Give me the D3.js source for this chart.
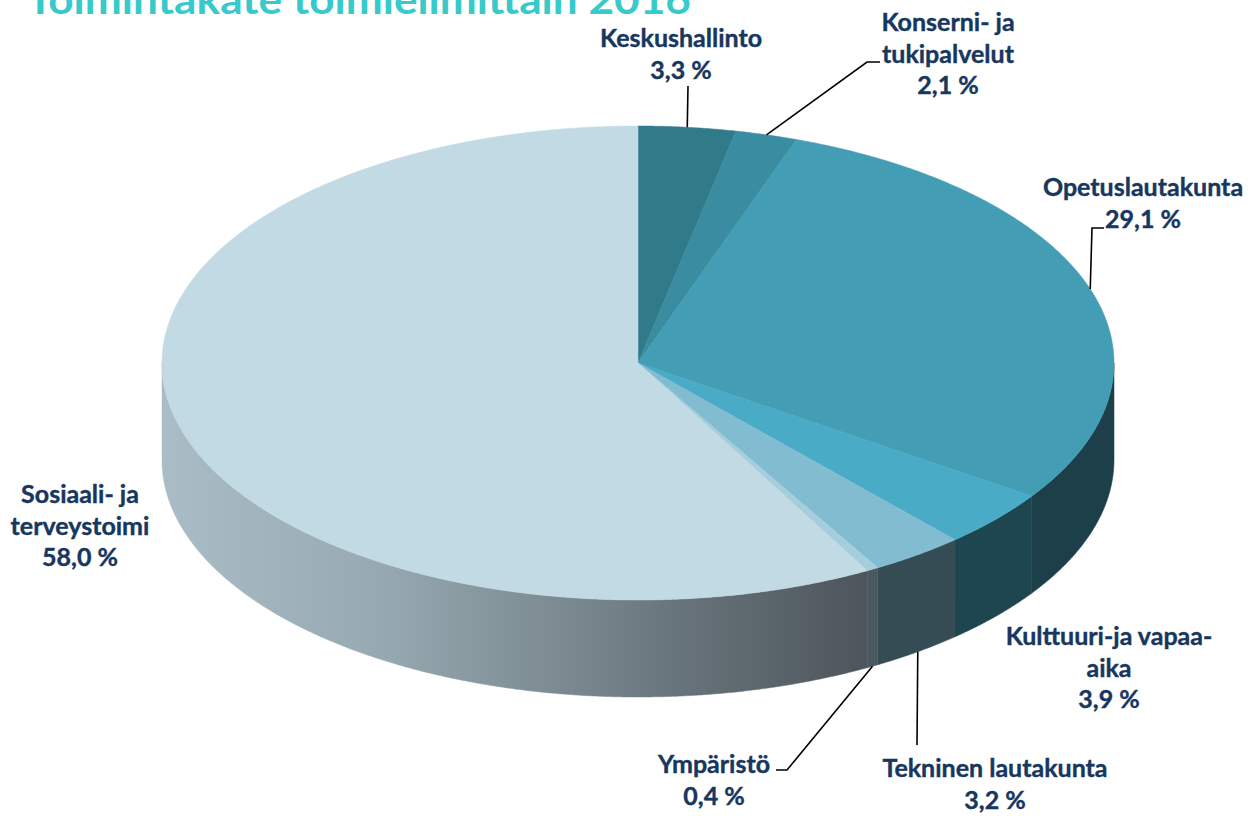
<!DOCTYPE html>
<html>
<head>
<meta charset="utf-8">
<script src="https://cdn.jsdelivr.net/npm/d3@7"></script>
<style>
  body { margin: 0; background: #fff; }
  text { font-family: Lato, "Open Sans", sans-serif; font-weight: bold; }
</style>
</head>
<body>
<div id="main"></div>
<script>
// data
var names = ['Keskushallinto', 'Konserni- ja tukipalvelut', 'Opetuslautakunta',
  'Kulttuuri-ja vapaa-aika', 'Tekninen lautakunta', 'Ympäristö', 'Sosiaali- ja terveystoimi'];
var values = [3.3, 2.1, 29.1, 3.9, 3.2, 0.4, 58.0];
var labelLines = [
  ['Keskushallinto'],
  ['Konserni- ja', 'tukipalvelut'],
  ['Opetuslautakunta'],
  ['Kulttuuri-ja vapaa-', 'aika'],
  ['Tekninen lautakunta'],
  ['Ympäristö'],
  ['Sosiaali- ja', 'terveystoimi']
];
var title = 'Toimintakate toimielimittäin 2016';

// colours
var topColors = ['#317a8a', '#3a8ca1', '#439db5', '#49abc6', '#82bcd0', '#a5cddb', '#c2dae3'];
var sideColors = ['#1e4a55', '#22505c', '#1c3f4a', '#1e4651', '#364c55', '#4a5860', 'url(#sideGrad)'];

// label placement: text centre, first baseline, leader elbow points
var labelLayout = [
  { x: 681, y: 47, leader: [[688, 86]] },
  { x: 948, y: 31, leader: [[867, 62], [880, 62]] },
  { x: 1143, y: 196, leader: [[1092, 228], [1104, 228]] },
  { x: 1109, y: 645, leader: null },
  { x: 995, y: 777, leader: [[917, 745]] },
  { x: 714, y: 773, leader: [[787, 770], [776, 770]] },
  { x: 80, y: 503, leader: null }
];

var width = 1253, height = 816;
var cx = 638, cy = 363, rx = 476, ry = 237, depth = 97;
var lineH = 31.5;

var svg = d3.select('#main').append('svg')
  .attr('width', width)
  .attr('height', height);

var defs = svg.append('defs');
var grad = defs.append('linearGradient')
  .attr('id', 'sideGrad')
  .attr('gradientUnits', 'userSpaceOnUse')
  .attr('x1', cx - rx).attr('x2', 880).attr('y1', 0).attr('y2', 0);
[[0, '#aabdc6'], [0.3, '#97a9b1'], [0.55, '#7c8b92'], [0.78, '#616c73'], [1, '#4c535a']]
  .forEach(function(s) {
    grad.append('stop').attr('offset', s[0]).attr('stop-color', s[1]);
  });

var pie = d3.pie().sort(null).value(function(d) { return d; });
var arcs = pie(values);

function pt(t, dy) {
  return [cx + rx * Math.sin(t), cy - ry * Math.cos(t) + (dy || 0)];
}

function arcPoints(a0, a1, dy) {
  var n = Math.max(2, Math.ceil(Math.abs(a1 - a0) / 0.005));
  return d3.range(n + 1).map(function(i) { return pt(a0 + (a1 - a0) * i / n, dy); });
}

var line = d3.line();

// side walls for the front half
var sides = svg.append('g');
arcs.forEach(function(a, i) {
  var s = Math.max(a.startAngle, Math.PI / 2);
  var e = Math.min(a.endAngle, 3 * Math.PI / 2);
  if (s >= e) return;
  var pts = arcPoints(s, e, 0).concat(arcPoints(e, s, depth));
  sides.append('path')
    .attr('d', line(pts) + 'Z')
    .attr('fill', sideColors[i])
    .attr('stroke', sideColors[i])
    .attr('stroke-width', 0.5);
});

// top faces
var tops = svg.append('g');
arcs.forEach(function(a, i) {
  var pts = [[cx, cy]].concat(arcPoints(a.startAngle, a.endAngle, 0));
  tops.append('path')
    .attr('d', line(pts) + 'Z')
    .attr('fill', topColors[i])
    .attr('stroke', topColors[i])
    .attr('stroke-width', 0.5);
});

// leader lines
arcs.forEach(function(a, i) {
  var lay = labelLayout[i];
  if (!lay.leader) return;
  var mid = (a.startAngle + a.endAngle) / 2;
  var start = pt(mid, Math.cos(mid) < 0 ? depth : 0);
  svg.append('path')
    .attr('d', line([start].concat(lay.leader)))
    .attr('fill', 'none')
    .attr('stroke', '#000')
    .attr('stroke-width', 1.6);
});

// labels
arcs.forEach(function(a, i) {
  var lay = labelLayout[i];
  var lines = labelLines[i].concat([d3.format('.1f')(values[i]).replace('.', ',') + ' %']);
  var t = svg.append('text')
    .attr('text-anchor', 'middle')
    .attr('fill', '#17375e')
    .attr('stroke', '#17375e')
    .attr('stroke-width', 0.4)
    .attr('font-size', 25);
  lines.forEach(function(l, j) {
    t.append('tspan').attr('x', lay.x).attr('y', lay.y + j * lineH).text(l);
  });
});

// title (cut off at the top edge, as in the source)
svg.append('text')
  .attr('x', 27)
  .attr('y', 14)
  .attr('fill', '#38caca')
  .attr('font-size', 40)
  .attr('textLength', 664)
  .attr('lengthAdjust', 'spacingAndGlyphs')
  .text(title);
</script>
</body>
</html>
